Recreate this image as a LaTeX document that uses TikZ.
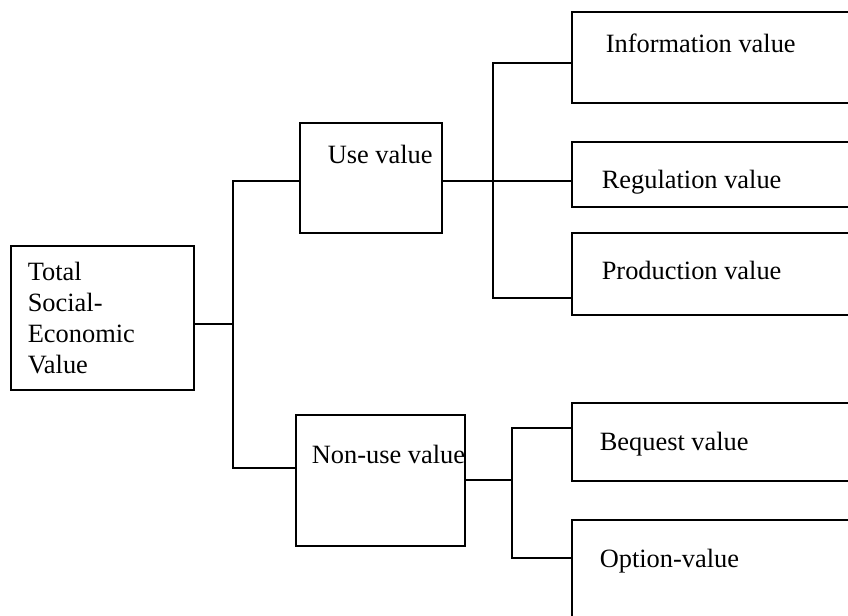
\documentclass[tikz,border=0pt]{standalone}
\usepackage{fontspec}
\setmainfont{Liberation Serif}

\begin{document}
\begin{tikzpicture}[x=0.5pt,y=-0.5pt,line width=0.8pt,
  box/.style={draw,inner sep=0pt,line width=0.8pt},
  txt/.style={inner sep=0pt,anchor=base west,font=\fontsize{13.2}{15.5}\selectfont}]

        \useasboundingbox (0,0) rectangle (848,616);
        \clip (0,0) rectangle (848,616);

        % boxes
        \begin{scope}[every node/.style={box}]
          \node[minimum width=91.5pt,minimum height=72pt]   (total)  at (102.5,318) {};
          \node[minimum width=71pt,minimum height=55pt]     (use)    at (371,178)   {};
          \node[minimum width=84.5pt,minimum height=65.5pt] (nonuse) at (380.5,480.5) {};
          \node[minimum width=164pt,minimum height=45.5pt]  (info)   at (736,57.5)  {};
          \node[minimum width=164pt,minimum height=32.5pt]  (regul)  at (736,174.5) {};
          \node[minimum width=164pt,minimum height=41pt]    (prod)   at (736,274)   {};
          \node[minimum width=164pt,minimum height=39pt]    (beq)    at (736,442)   {};
          \node[minimum width=164pt,minimum height=65pt]    (opt)    at (736,585)   {};
        \end{scope}

        % texts
        \begin{scope}[every node/.style={txt}]
          \node[align=left] (totaltxt) at (27,373) {Total\\Social-\\Economic\\Value};
          \node (usetxt)    at (327,163) {Use value};
          \node (nonusetxt) at (311,463) {Non-use value};
          \node (infotxt)   at (605,52)  {Information value};
          \node (regultxt)  at (601,188) {Regulation value};
          \node (prodtxt)   at (601,279) {Production value};
          \node (beqtxt)    at (599,450) {Bequest value};
          \node (opttxt)    at (599,567) {Option-value};
        \end{scope}

        % junctions
        \coordinate (tm) at (233,324);
        \coordinate (ta) at (233,181);
        \coordinate (tb) at (233,468);
        \coordinate (ua) at (493,63);
        \coordinate (ub) at (493,181);
        \coordinate (uc) at (493,298);
        \coordinate (na) at (512,428);
        \coordinate (nm) at (512,480);
        \coordinate (nb) at (512,558);

        \draw (total.east |- tm) -- (tm);
        \draw (use.west |- ta) -- (ta) -- (tb) -- (nonuse.west |- tb);
        \draw (use.east |- ub) -- (ub);
        \draw (info.west |- ua) -- (ua) -- (uc) -- (prod.west |- uc);
        \draw (regul.west |- ub) -- (ub);
        \draw (nonuse.east |- nm) -- (nm);
        \draw (beq.west |- na) -- (na) -- (nb) -- (opt.west |- nb);

      \end{tikzpicture}
\end{document}
